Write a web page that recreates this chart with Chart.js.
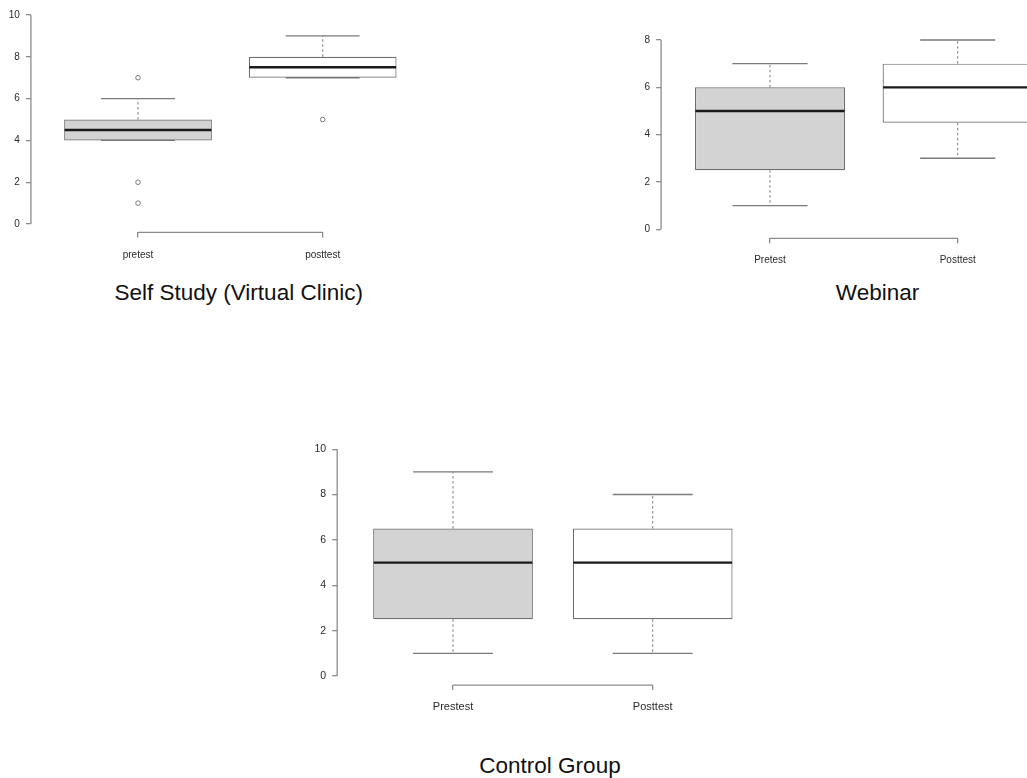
<!DOCTYPE html>
<html>
<head>
<meta charset="utf-8">
<script src="https://cdn.jsdelivr.net/npm/chart.js@4.4.1/dist/chart.umd.min.js"></script>
<style>
html,body{margin:0;padding:0;background:#fff;overflow:hidden;width:1027px;height:778px;position:relative;}
canvas{position:absolute;}
.title{position:absolute;font-family:"Liberation Sans",Arial,Helvetica,sans-serif;font-size:22.5px;color:#111;white-space:nowrap;transform:translateX(-50%);line-height:1;}
</style>
</head>
<body>
<canvas id="c1" width="460" height="270" style="left:0px;top:0px"></canvas>
<canvas id="c2" width="480" height="280" style="left:620px;top:0px"></canvas>
<canvas id="c3" width="500" height="300" style="left:300px;top:420px"></canvas>
<div class="title" style="left:238.7px;top:282px">Self Study (Virtual Clinic)</div>
<div class="title" style="left:877.5px;top:282px">Webinar</div>
<div class="title" style="left:550px;top:755px">Control Group</div>
<script>
// ---- Panel 1: Self Study (Virtual Clinic)
const categories1 = ['pretest', 'posttest'];
const whiskerLow1 = [4, 7];
const q1_1 = [4, 7];
const median1 = [4.5, 7.5];
const q3_1 = [5, 8];
const whiskerHigh1 = [6, 9];
const outliers1 = [[7, 2, 1], [5]];
const yTicks1 = [0, 2, 4, 6, 8, 10];

// ---- Panel 2: Webinar
const categories2 = ['Pretest', 'Posttest'];
const whiskerLow2 = [1, 3];
const q1_2 = [2.5, 4.5];
const median2 = [5, 6];
const q3_2 = [6, 7];
const whiskerHigh2 = [7, 8];
const outliers2 = [[], []];
const yTicks2 = [0, 2, 4, 6, 8];

// ---- Panel 3: Control Group
const categories3 = ['Prestest', 'Posttest'];
const whiskerLow3 = [1, 1];
const q1_3 = [2.5, 2.5];
const median3 = [5, 5];
const q3_3 = [6.5, 6.5];
const whiskerHigh3 = [9, 8];
const outliers3 = [[], []];
const yTicks3 = [0, 2, 4, 6, 8, 10];

// ---- styles
const FONT = '"Liberation Sans", Arial, Helvetica, sans-serif';
const boxFill = ['#d3d3d3', '#ffffff'];
const BOX_HALF = 0.4, CAP_HALF = 0.2;
const LINE_GREY = '#6e6e6e', AXIS_GREY = '#8c8c8c';

const panels = [
  {id:'c1', cat:categories1, lo:whiskerLow1, q1:q1_1, med:median1, q3:q3_1, hi:whiskerHigh1, out:outliers1, yTicks:yTicks1,
   yMin:-0.4, yMax:10.4, pad:{left:0.9, top:6.64, right:30.2, bottom:7.6}, xFont:10, yFont:10, xPad:12},
  {id:'c2', cat:categories2, lo:whiskerLow2, q1:q1_2, med:median2, q3:q3_2, hi:whiskerHigh2, out:outliers2, yTicks:yTicks2,
   yMin:-0.38, yMax:8.32, pad:{left:11.1, top:32.43, right:33.4, bottom:11.7}, xFont:10, yFont:10, xPad:10.5},
  {id:'c3', cat:categories3, lo:whiskerLow3, q1:q1_3, med:median3, q3:q3_3, hi:whiskerHigh3, out:outliers3, yTicks:yTicks3,
   yMin:-0.4, yMax:10.4, pad:{left:7.2, top:20.1, right:31.5, bottom:4.9}, xFont:11, yFont:10.5, xPad:10}
];

function zeroPad(s){ s.paddingLeft = 0; s.paddingRight = 0; s.paddingTop = 0; s.paddingBottom = 0; }

function makePlugin(p){
  return {
    id: 'boxParts_' + p.id,
    beforeDatasetsDraw(chart){
      const ctx = chart.ctx, xs = chart.scales.x, ys = chart.scales.y, area = chart.chartArea;
      ctx.save();
      // axis lines (R style: only over tick range)
      ctx.strokeStyle = AXIS_GREY; ctx.lineWidth = 1.3; ctx.setLineDash([]);
      ctx.beginPath();
      ctx.moveTo(area.left, ys.getPixelForValue(p.yTicks[0]));
      ctx.lineTo(area.left, ys.getPixelForValue(p.yTicks[p.yTicks.length - 1]));
      ctx.moveTo(xs.getPixelForValue(1), area.bottom);
      ctx.lineTo(xs.getPixelForValue(p.cat.length), area.bottom);
      ctx.stroke();
      // whiskers
      p.cat.forEach((c, i) => {
        const xc = xs.getPixelForValue(i + 1);
        ctx.strokeStyle = '#7a7a7a'; ctx.lineWidth = 1; ctx.setLineDash([2.5, 2.5]);
        ctx.beginPath();
        if (p.hi[i] > p.q3[i]) { ctx.moveTo(xc, ys.getPixelForValue(p.q3[i])); ctx.lineTo(xc, ys.getPixelForValue(p.hi[i])); }
        if (p.lo[i] < p.q1[i]) { ctx.moveTo(xc, ys.getPixelForValue(p.q1[i])); ctx.lineTo(xc, ys.getPixelForValue(p.lo[i])); }
        ctx.stroke();
        ctx.setLineDash([]); ctx.strokeStyle = '#7a7a7a'; ctx.lineWidth = 1.4;
        ctx.beginPath();
        [p.lo[i], p.hi[i]].forEach(v => {
          const yy = ys.getPixelForValue(v);
          ctx.moveTo(xs.getPixelForValue(i + 1 - CAP_HALF), yy);
          ctx.lineTo(xs.getPixelForValue(i + 1 + CAP_HALF), yy);
        });
        ctx.stroke();
      });
      ctx.restore();
    },
    afterDatasetsDraw(chart){
      const ctx = chart.ctx, xs = chart.scales.x, ys = chart.scales.y;
      ctx.save();
      ctx.strokeStyle = '#1a1a1a'; ctx.lineWidth = 2.4; ctx.setLineDash([]);
      ctx.beginPath();
      p.cat.forEach((c, i) => {
        const yy = ys.getPixelForValue(p.med[i]);
        ctx.moveTo(xs.getPixelForValue(i + 1 - BOX_HALF) + 0.5, yy);
        ctx.lineTo(xs.getPixelForValue(i + 1 + BOX_HALF) - 0.5, yy);
      });
      ctx.stroke();
      ctx.restore();
    }
  };
}

panels.forEach(p => {
  const boxData = p.cat.map((c, i) => ({x: i + 1, y: [p.q1[i], p.q3[i]]}));
  const outData = [];
  p.out.forEach((arr, i) => arr.forEach(v => outData.push({x: i + 1, y: v})));
  new Chart(document.getElementById(p.id), {
    type: 'bar',
    data: {
      datasets: [
        {type:'bar', data: boxData, backgroundColor: boxFill, borderColor: LINE_GREY, borderWidth: 1.2,
         borderSkipped: false, categoryPercentage: 1, barPercentage: 2 * BOX_HALF, grouped: true},
        {type:'scatter', data: outData, pointStyle:'circle', pointRadius: 2.3, pointBorderWidth: 1,
         pointBorderColor: '#7a7a7a', pointBackgroundColor: 'rgba(255,255,255,0)', showLine: false}
      ]
    },
    options: {
      responsive: false, animation: false, events: [],
      layout: {padding: p.pad},
      plugins: {legend: {display: false}, tooltip: {enabled: false}, title: {display: false}},
      scales: {
        x: {
          type: 'linear', position: 'bottom', min: 0.42, max: p.cat.length + 0.58, offset: false,
          afterBuildTicks: s => { s.ticks = p.cat.map((c, i) => ({value: i + 1})); },
          afterFit: s => { s.height = 30; zeroPad(s); },
          ticks: {callback: v => p.cat[Math.round(v) - 1], font: {family: FONT, size: p.xFont}, color: '#2a2a2a',
                  padding: p.xPad, maxRotation: 0, minRotation: 0, autoSkip: false},
          grid: {drawOnChartArea: false, drawTicks: true, tickLength: 5, color: AXIS_GREY, lineWidth: 1.3, offset: false},
          border: {display: false}
        },
        y: {
          type: 'linear', position: 'left', min: p.yMin, max: p.yMax, beginAtZero: false,
          afterBuildTicks: s => { s.ticks = p.yTicks.map(v => ({value: v})); },
          afterFit: s => { s.width = 30; zeroPad(s); },
          ticks: {callback: v => String(v), font: {family: FONT, size: p.yFont}, color: '#2a2a2a', padding: 6},
          grid: {drawOnChartArea: false, drawTicks: true, tickLength: 5, color: AXIS_GREY, lineWidth: 1.3},
          border: {display: false}
        }
      }
    },
    plugins: [makePlugin(p)]
  });
});
</script>
</body>
</html>
